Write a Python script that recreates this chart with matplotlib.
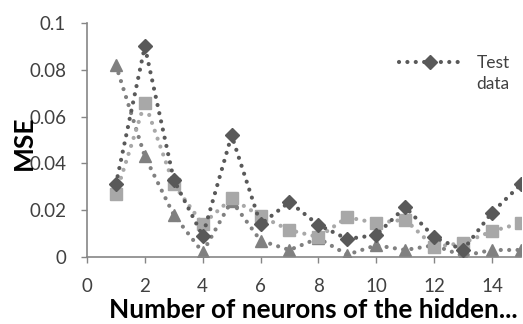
import matplotlib.pyplot as plt

plt.rcParams['font.family'] = ['Lato', 'DejaVu Sans']

# neurons in the hidden layer
neurons = [1, 2, 3, 4, 5, 6, 7, 8, 9, 10, 11, 12, 13, 14, 15]

# three MSE series
mse_test = [0.031, 0.090, 0.033, 0.009, 0.052, 0.014, 0.0235, 0.0137, 0.0077,
            0.0094, 0.0214, 0.0085, 0.003, 0.019, 0.031]
mse_squares = [0.027, 0.066, 0.031, 0.014, 0.025, 0.0175, 0.0115, 0.0085, 0.017,
               0.0145, 0.016, 0.0043, 0.006, 0.011, 0.0145]
mse_triangles = [0.082, 0.043, 0.018, 0.002, 0.024, 0.007, 0.003, 0.008, 0.001,
                 0.005, 0.003, 0.005, 0.0005, 0.003, 0.003]

xticks = [0, 2, 4, 6, 8, 10, 12, 14]
yticks = [0, 0.02, 0.04, 0.06, 0.08, 0.1]
ytick_labels = ['0', '0.02', '0.04', '0.06', '0.08', '0.1']

fig = plt.figure(figsize=(5.23, 3.24), dpi=100)
ax = fig.add_axes([0.1663, 0.2068, 0.8297, 0.7222])

dots = (0, (0.01, 2.0))
lw = 3
ax.plot(neurons, mse_triangles, color='#808080', linestyle=dots, linewidth=lw,
        dash_capstyle='round', marker='^', markersize=8, zorder=2)
ax.plot(neurons, mse_squares, color='#a8a8a8', linestyle=dots, linewidth=lw,
        dash_capstyle='round', marker='s', markersize=8, zorder=3)
ax.plot(neurons, mse_test, color='#595959', linestyle=dots, linewidth=lw,
        dash_capstyle='round', marker='D', markersize=7, zorder=4,
        label='Test')

ax.set_xlim(0, 15)
ax.set_ylim(0, 0.1)
ax.set_xticks(xticks)
ax.set_yticks(yticks)
ax.set_yticklabels(ytick_labels)

for s in ['top', 'right']:
    ax.spines[s].set_visible(False)
for s in ['left', 'bottom']:
    ax.spines[s].set_color('#868686')
    ax.spines[s].set_linewidth(1.2)
ax.tick_params(axis='both', colors='#868686', labelcolor='#404040',
               labelsize=13.5, length=4, width=1)
ax.tick_params(axis='y', pad=11)
ax.tick_params(axis='x', pad=11)

ax.set_ylabel('MSE', fontsize=19, fontweight='bold', color='#000000')
ax.yaxis.set_label_coords(-0.117, 0.489)
ax.set_xlabel('Number of neurons of the hidden...', fontsize=18.8,
              fontweight='bold', color='#000000')
ax.xaxis.set_label_coords(0.522, -0.175)

leg = ax.legend(loc='upper left', bbox_to_anchor=(0.682, 0.93), frameon=False,
                fontsize=12.5, handlelength=3.6, handletextpad=0.9,
                labelcolor='#404040')

# second line of the legend label, put under "Test"
fig.canvas.draw()
tb = leg.get_texts()[0].get_window_extent()
fig.text(tb.x0 / fig.bbox.width, (tb.y0 - 21) / fig.bbox.height, 'data',
         fontsize=12.5, color='#404040', ha='left', va='bottom')

fig.savefig('out.png')
